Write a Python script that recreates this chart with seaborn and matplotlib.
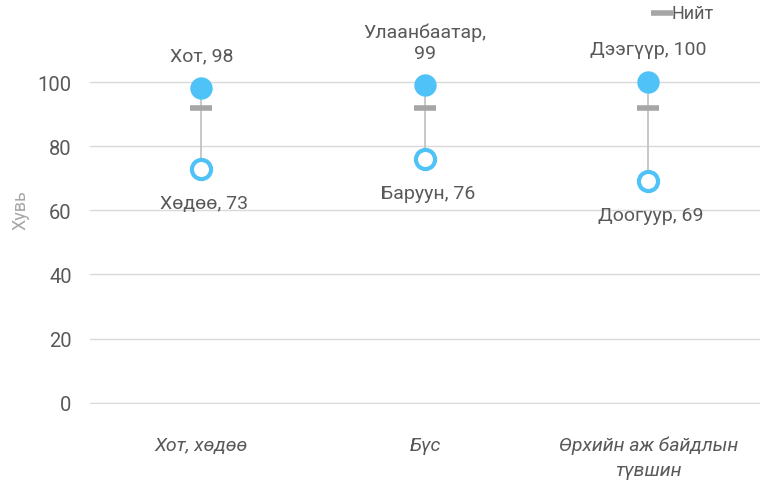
import pandas as pd
import matplotlib.pyplot as plt
import seaborn as sns

# Data
groups = ['Хот, хөдөө', 'Бүс', 'Өрхийн аж байдлын\nтүвшин']
high_names = ['Хот', 'Улаанбаатар,\n', 'Дээгүүр']
high_values = [98, 99, 100]
low_names = ['Хөдөө', 'Баруун', 'Доогуур']
low_values = [73, 76, 69]
total_values = [92, 92, 92]

blue = '#4FC3F7'
grey_line = '#BFBFBF'
grey_total = '#A6A6A6'
text_col = '#595959'

sns.set_theme(style='white')
plt.rcParams['font.family'] = ['Roboto', 'DejaVu Sans']

df = pd.DataFrame({'group': groups, 'high': high_values,
                   'low': low_values, 'total': total_values})

fig = plt.figure(figsize=(7.67, 4.81), dpi=100)
ax = fig.add_axes([0.117, 0.158, 0.874, 0.736])

# connector lines
x = range(len(groups))
ax.vlines(x, df['low'], df['high'], color=grey_line, lw=1.2, zorder=1)

# total marker
sns.scatterplot(data=df, x='group', y='total', marker='_', s=260, linewidth=4,
                color=grey_total, ax=ax, zorder=2, label='Нийт')
# high points (filled)
sns.scatterplot(data=df, x='group', y='high', s=260, color=blue,
                edgecolor=blue, linewidth=0, ax=ax, zorder=3, legend=False)
# low points (hollow)
sns.scatterplot(data=df, x='group', y='low', s=190, facecolor='white',
                edgecolor=blue, linewidth=3, ax=ax, zorder=3, legend=False)

# data labels
for i, (n, v) in enumerate(zip(high_names, high_values)):
    lab = f'{n}{v}' if n.endswith('\n') else f'{n}, {v}'
    ax.annotate(lab, (i, v), xytext=(0, 17), textcoords='offset points',
                ha='center', va='bottom', fontsize=14, color=text_col,
                linespacing=1.2)
for i, (n, v) in enumerate(zip(low_names, low_values)):
    ax.annotate(f'{n}, {v}', (i, v), xytext=(2, -18), textcoords='offset points',
                ha='center', va='top', fontsize=14, color=text_col)

ax.set_xlim(-0.5, 2.5)
ax.set_ylim(-0.4, 110)
ax.set_yticks(range(0, 101, 20))
ax.yaxis.grid(True, color='#D9D9D9', lw=1)
ax.set_axisbelow(True)
for s in ax.spines.values():
    s.set_visible(False)

ax.set_xticks(list(x))
ax.set_xticklabels(groups, fontsize=14, color=text_col, style='italic',
                   linespacing=1.5)
ax.tick_params(axis='x', length=0, pad=23)
ax.tick_params(axis='y', length=0, labelsize=14.5, labelcolor=text_col, pad=13)
ax.set_xlabel('')
ax.set_ylabel('Хувь', fontsize=13, color='#A6A6A6')
ax.yaxis.set_label_coords(-0.09, 0.55)

leg = ax.legend(loc='center left', bbox_to_anchor=(0.847, 1.105), frameon=False,
                fontsize=13, handlelength=0.45, handletextpad=0.35,
                borderaxespad=0, borderpad=0)
for t in leg.get_texts():
    t.set_color(text_col)

fig.savefig('out.png', dpi=100)
